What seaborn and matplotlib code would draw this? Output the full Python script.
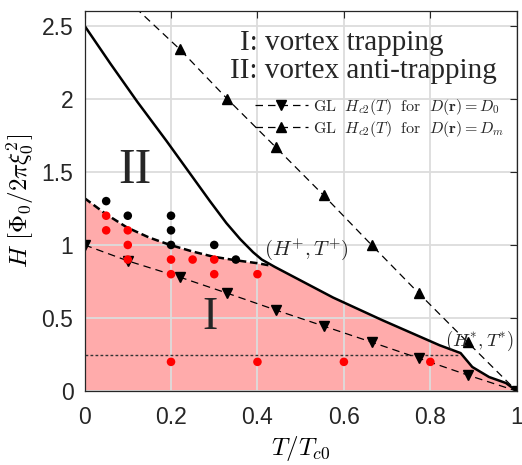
import seaborn as sns
import matplotlib.pyplot as plt
import pandas as pd

# solid boundary (anti-trapping / trapping)
T_solid = [0, 0.06, 0.122, 0.19, 0.251, 0.29, 0.328, 0.36, 0.39, 0.41, 0.428,
           0.44, 0.575, 0.689, 0.821, 0.870, 0.897, 0.936, 0.975, 1.0]
H_solid = [2.5, 2.24, 1.98, 1.71, 1.46, 1.30, 1.15, 1.04, 0.95, 0.90, 0.87,
           0.85, 0.64, 0.485, 0.314, 0.26, 0.165, 0.096, 0.055, 0.0]

# thick dashed boundary up to (H+, T+)
T_dash = [0, 0.05, 0.098, 0.15, 0.198, 0.25, 0.297, 0.35, 0.40, 0.428]
H_dash = [1.32, 1.21, 1.12, 1.05, 1.0, 0.955, 0.92, 0.895, 0.875, 0.86]

# GL Hc2 lines
T_gl = [0, 0.101, 0.22, 0.33, 0.442, 0.553, 0.664, 0.773, 0.886, 1.0]
H_d0 = [1.0, 0.89, 0.78, 0.67, 0.555, 0.445, 0.335, 0.225, 0.11, 0.0]
H_dm = [3.0, 2.67, 2.34, 2.0, 1.67, 1.34, 1.0, 0.67, 0.335, 0.0]

# simulation points
T_black = [0.05, 0.1, 0.2, 0.2, 0.2, 0.3, 0.35]
H_black = [1.3, 1.2, 1.2, 1.1, 1.0, 1.0, 0.9]
T_red = [0.05, 0.05, 0.1, 0.1, 0.1, 0.2, 0.2, 0.25, 0.3, 0.3, 0.4,
         0.2, 0.4, 0.6, 0.8]
H_red = [1.2, 1.1, 1.1, 1.0, 0.9, 0.9, 0.8, 0.9, 0.9, 0.8, 0.8,
         0.2, 0.2, 0.2, 0.2]

H_star = 0.25
T_star = 0.868

sns.set_theme(style="whitegrid")
plt.rcParams['mathtext.fontset'] = 'cm'
plt.rcParams['font.family'] = ['Liberation Sans', 'DejaVu Sans']

fig = plt.figure(figsize=(5.22, 4.65), dpi=100)
ax = fig.add_axes([0.162, 0.159, 0.828, 0.817])
ax.set_facecolor('white')

# pink trapping region: dashed curve up to T+, then solid curve
T_fill = T_dash + T_solid[T_solid.index(0.44):]
H_fill = H_dash + H_solid[T_solid.index(0.44):]
ax.fill_between(T_fill, 0, H_fill, color='#ffabab', lw=0, zorder=0.2)

ax.grid(True, color='#dcdcdc', lw=1.3)
ax.set_axisbelow(True)

sns.lineplot(x=T_solid, y=H_solid, sort=False, color='black', lw=1.8, ax=ax, zorder=3)
sns.lineplot(x=T_dash, y=H_dash, sort=False, color='black', lw=1.8,
             linestyle=(0, (3, 1.5)), ax=ax, zorder=3)
ax.plot([0, T_star], [H_star, H_star], color='#333333', lw=1, linestyle=(0, (2, 1.6)), zorder=3)

ax.plot(T_gl, H_d0, color='black', lw=0.9, linestyle=(0, (6, 4)), marker='v', ms=7,
        label=r'$\mathrm{GL}\ \ H_{c2}(T)\ \ \mathrm{for}\ \ D(\mathbf{r})=D_0$', zorder=3)
ax.plot(T_gl, H_dm, color='black', lw=0.9, linestyle=(0, (6, 4)), marker='^', ms=7,
        label=r'$\mathrm{GL}\ \ H_{c2}(T)\ \ \mathrm{for}\ \ D(\mathbf{r})=D_m$', zorder=3)

pts = pd.DataFrame({'T': T_black + T_red, 'H': H_black + H_red,
                    'kind': ['anti'] * len(T_black) + ['trap'] * len(T_red)})
sns.scatterplot(data=pts, x='T', y='H', hue='kind', palette={'anti': 'black', 'trap': 'red'},
                s=38, edgecolor='none', legend=False, ax=ax, zorder=4)

ax.set_xlim(0, 1)
ax.set_ylim(0, 2.6)
ax.set_xticks([0, 0.2, 0.4, 0.6, 0.8, 1])
ax.set_xticklabels(['0', '0.2', '0.4', '0.6', '0.8', '1'])
ax.set_yticks([0, 0.5, 1, 1.5, 2, 2.5])
ax.set_yticklabels(['0', '0.5', '1', '1.5', '2', '2.5'])
ax.tick_params(direction='in', length=5, width=0.8, colors='#262626', labelsize=16.5,
               top=True, right=True)
ax.tick_params(axis='x', pad=11)
ax.tick_params(axis='y', pad=8)
for s in ax.spines.values():
    s.set_color('#262626')
    s.set_linewidth(0.9)
    s.set_zorder(5)

ax.set_xlabel(r'$T/T_{c0}$', fontsize=18, color='black', labelpad=3)
ax.set_ylabel(r'$H\ [\Phi_0/2\pi\xi_0^2]$', fontsize=18, color='black', labelpad=4)

serif = ['Liberation Serif', 'DejaVu Serif']
ax.text(0.36, 2.335, 'I: vortex trapping', family=serif, fontsize=21, ha='left', va='baseline')
ax.text(0.337, 2.145, 'II: vortex anti-trapping', family=serif, fontsize=21, ha='left', va='baseline')
ax.text(0.117, 1.51, 'II', family=serif, fontsize=36, ha='center', va='center')
ax.text(0.29, 0.50, 'I', family=serif, fontsize=33, ha='center', va='center')
ax.text(0.514, 0.97, r'$(H^{+}, T^{+})$', fontsize=15, ha='center', va='center')
ax.text(0.913, 0.34, r'$(H^{*}, T^{*})$', fontsize=13.5, ha='center', va='center')

leg = ax.legend(loc='upper right', bbox_to_anchor=(0.97, 0.775), frameon=False, fontsize=11.5,
                handlelength=3.3, handletextpad=0.3, borderaxespad=0, borderpad=0,
                labelspacing=0.15)
leg.set_zorder(6)

plt.savefig('out.png', dpi=100)
